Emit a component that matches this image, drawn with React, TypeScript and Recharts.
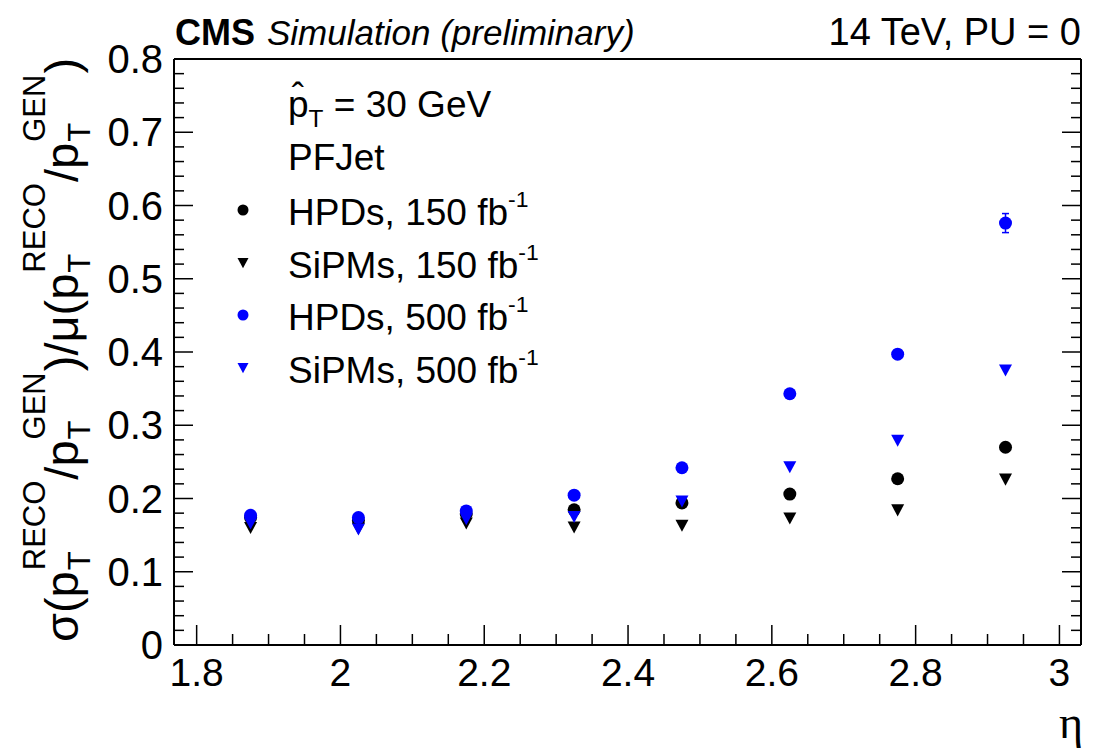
import React from 'react'
import { ScatterChart, Scatter, XAxis, YAxis, ErrorBar, Legend } from 'recharts'

// eta bin centres
const etaBins = [1.875, 2.025, 2.175, 2.325, 2.475, 2.625, 2.775, 2.925]

// sigma/mu of pT(RECO)/pT(GEN)
const hpd150 = [0.174, 0.17, 0.179, 0.1845, 0.194, 0.206, 0.227, 0.27]
const sipm150 = [0.16, 0.159, 0.166, 0.1605, 0.163, 0.173, 0.184, 0.226]
const hpd500 = [0.177, 0.174, 0.183, 0.2045, 0.242, 0.343, 0.397, 0.576]
const hpd500Err = [0.002, 0.002, 0.002, 0.002, 0.003, 0.004, 0.005, 0.013]
const sipm500 = [0.166, 0.158, 0.172, 0.175, 0.196, 0.243, 0.279, 0.375]

const xMajor = [1.8, 2, 2.2, 2.4, 2.6, 2.8, 3]
const yMajor = [0, 0.1, 0.2, 0.3, 0.4, 0.5, 0.6, 0.7, 0.8]

const X_DOMAIN: [number, number] = [1.7685, 3.03]
const Y_DOMAIN: [number, number] = [0, 0.8]
const FONT = "'Liberation Sans', Arial, Helvetica, sans-serif"

// minor ticks: split each major interval
const subdivide = (majors: number[], n: number) => {
  const out: number[] = []
  majors.forEach((m, i) => {
    out.push(m)
    if (i < majors.length - 1) {
      const step = (majors[i + 1] - m) / n
      for (let k = 1; k < n; k++) out.push(Number((m + k * step).toFixed(4)))
    }
  })
  return out
}
const xTicks = subdivide(xMajor, 4)
const yTicks = subdivide(yMajor, 5)

const isMajor = (v: number, majors: number[]) => majors.some((m) => Math.abs(m - v) < 1e-6)
const fmt = (v: number) => String(Number(v.toFixed(2)))

const toPoints = (ys: number[], errs?: number[]) =>
  etaBins.map((x, i) => ({ x, y: ys[i], err: errs ? errs[i] : 0 }))

const series = [
  { name: 'HPDs, 150', data: toPoints(hpd150), color: '#000000', marker: 'circle' },
  { name: 'SiPMs, 150', data: toPoints(sipm150), color: '#000000', marker: 'tri' },
  { name: 'HPDs, 500', data: toPoints(hpd500, hpd500Err), color: '#0000ff', marker: 'circle' },
  { name: 'SiPMs, 500', data: toPoints(sipm500), color: '#0000ff', marker: 'tri' },
]

const Marker = ({ cx, cy, color, marker, r = 6.5 }: any) =>
  marker === 'circle' ? (
    <circle cx={cx} cy={cy} r={r} fill={color} />
  ) : (
    <polygon
      points={`${cx - r},${cy - r * 0.9} ${cx + r},${cy - r * 0.9} ${cx},${cy + r * 0.95}`}
      fill={color}
    />
  )

const BottomTick = ({ x, y, payload }: any) => {
  const major = isMajor(payload.value, xMajor)
  return (
    <g>
      <line x1={x} x2={x} y1={y} y2={y - (major ? 20 : 11)} stroke="#000" strokeWidth={1.5} />
      {major && (
        <text x={x} y={y + 41} textAnchor="middle" fontSize={39} fontFamily={FONT} fill="#000">
          {fmt(payload.value)}
        </text>
      )}
    </g>
  )
}

const TopTick = ({ x, y, payload }: any) => {
  const major = isMajor(payload.value, xMajor)
  return <line x1={x} x2={x} y1={y} y2={y + (major ? 19 : 10)} stroke="#000" strokeWidth={1.5} />
}

const LeftTick = ({ x, y, payload }: any) => {
  const major = isMajor(payload.value, yMajor)
  return (
    <g>
      <line x1={x} x2={x + (major ? 19 : 10)} y1={y} y2={y} stroke="#000" strokeWidth={1.5} />
      {major && (
        <text x={x - 11} y={y + 14} textAnchor="end" fontSize={40} fontFamily={FONT} fill="#000">
          {fmt(payload.value)}
        </text>
      )}
    </g>
  )
}

const RightTick = ({ x, y, payload }: any) => {
  const major = isMajor(payload.value, yMajor)
  return <line x1={x} x2={x - (major ? 19 : 10)} y1={y} y2={y} stroke="#000" strokeWidth={1.5} />
}

const Scr = ({ sup, sub }: { sup: string; sub: string }) => (
  <span
    style={{
      display: 'inline-flex',
      flexDirection: 'column',
      fontSize: '0.66em',
      lineHeight: 1.45,
      verticalAlign: '1.05em',
      margin: '0 1px',
    }}
  >
    <span>{sup}</span>
    <span>{sub}</span>
  </span>
)

const Inv = () => (
  <span style={{ fontSize: '0.62em', verticalAlign: '0.8em' }}>-1</span>
)

const LegendBox = () => {
  const rowStyle: React.CSSProperties = {
    height: 52.5,
    display: 'flex',
    alignItems: 'center',
    whiteSpace: 'nowrap',
  }
  return (
    <div style={{ fontFamily: FONT, fontSize: 37, color: '#000' }}>
      <div style={rowStyle}>
        <span style={{ width: 63 }} />
        <span style={{ position: 'relative' }}>
          p
          <span style={{ position: 'absolute', left: '0.1em', top: '-0.22em' }}>ˆ</span>
        </span>
        <span style={{ fontSize: '0.66em', position: 'relative', top: '0.55em' }}>T</span>
        <span>&nbsp;= 30 GeV</span>
      </div>
      <div style={rowStyle}>
        <span style={{ width: 63 }} />
        <span>PFJet</span>
      </div>
      {series.map((s) => (
        <div key={s.name} style={rowStyle}>
          <svg width={36} height={20} style={{ marginLeft: 0, marginRight: 27 }}>
            <Marker cx={18} cy={10} color={s.color} marker={s.marker} r={5.5} />
          </svg>
          <span>
            {s.name} fb
            <Inv />
          </span>
        </div>
      ))}
    </div>
  )
}

const axisLine = { stroke: '#000', strokeWidth: 2 }

export default function App() {
  return (
    <div style={{ position: 'absolute', left: 0, top: 0, width: 1110, height: 756, background: '#fff' }}>
      <ScatterChart width={1110} height={756} margin={{ top: 58, right: 28, bottom: 110, left: 173 }}>
        <XAxis
          xAxisId={0}
          dataKey="x"
          type="number"
          domain={X_DOMAIN}
          allowDataOverflow
          ticks={xTicks}
          interval={0}
          height={1}
          tickSize={0}
          tickMargin={0}
          tickLine={false}
          axisLine={axisLine}
          tick={(p: any) => <BottomTick {...p} />}
        />
        <XAxis
          xAxisId="top"
          orientation="top"
          type="number"
          domain={X_DOMAIN}
          allowDataOverflow
          ticks={xTicks}
          interval={0}
          height={1}
          tickSize={0}
          tickMargin={0}
          tickLine={false}
          axisLine={axisLine}
          tick={(p: any) => <TopTick {...p} />}
        />
        <YAxis
          yAxisId={0}
          dataKey="y"
          type="number"
          domain={Y_DOMAIN}
          allowDataOverflow
          ticks={yTicks}
          interval={0}
          width={1}
          tickSize={0}
          tickMargin={0}
          tickLine={false}
          axisLine={axisLine}
          tick={(p: any) => <LeftTick {...p} />}
        />
        <YAxis
          yAxisId="right"
          orientation="right"
          type="number"
          domain={Y_DOMAIN}
          allowDataOverflow
          ticks={yTicks}
          interval={0}
          width={1}
          tickSize={0}
          tickMargin={0}
          tickLine={false}
          axisLine={axisLine}
          tick={(p: any) => <RightTick {...p} />}
        />
        {series.map((s) => (
          <Scatter
            key={s.name}
            name={s.name}
            data={s.data}
            xAxisId={0}
            yAxisId={0}
            isAnimationActive={false}
            shape={(p: any) => <Marker cx={p.cx} cy={p.cy} color={s.color} marker={s.marker} />}
          >
            {s.name === 'HPDs, 500' && (
              <ErrorBar dataKey="err" direction="y" width={3.5} stroke={s.color} strokeWidth={1.5} />
            )}
          </Scatter>
        ))}
        <Legend
          layout="vertical"
          align="center"
          verticalAlign="middle"
          wrapperStyle={{ left: 225, top: 79, width: 420 }}
          content={() => <LegendBox />}
        />
      </ScatterChart>

      <svg
        width={1110}
        height={756}
        style={{ position: 'absolute', left: 0, top: 0, pointerEvents: 'none' }}
      >
        <text x={175} y={45} fontFamily={FONT} fontWeight="bold" fontSize={36} fill="#000">
          CMS
        </text>
        <text x={267} y={45} fontFamily={FONT} fontStyle="italic" fontSize={35} fill="#000">
          Simulation (preliminary)
        </text>
        <text x={1081} y={45} textAnchor="end" fontFamily={FONT} fontSize={38} fill="#000">
          14 TeV, PU = 0
        </text>
        <text x={1083} y={738} textAnchor="end" fontFamily="'Liberation Serif', 'DejaVu Serif', serif" fontSize={46} fill="#000">
          η
        </text>
      </svg>

      <div
        style={{
          position: 'absolute',
          left: 58,
          top: 350,
          transform: 'translate(-50%, -50%) rotate(-90deg)',
          whiteSpace: 'nowrap',
          fontFamily: FONT,
          fontSize: 47,
          lineHeight: 1,
          color: '#000',
        }}
      >
        σ(p<Scr sup="RECO" sub="T" />/p<Scr sup="GEN" sub="T" />)/μ(p<Scr sup="RECO" sub="T" />/p
        <Scr sup="GEN" sub="T" />)
      </div>
    </div>
  )
}
